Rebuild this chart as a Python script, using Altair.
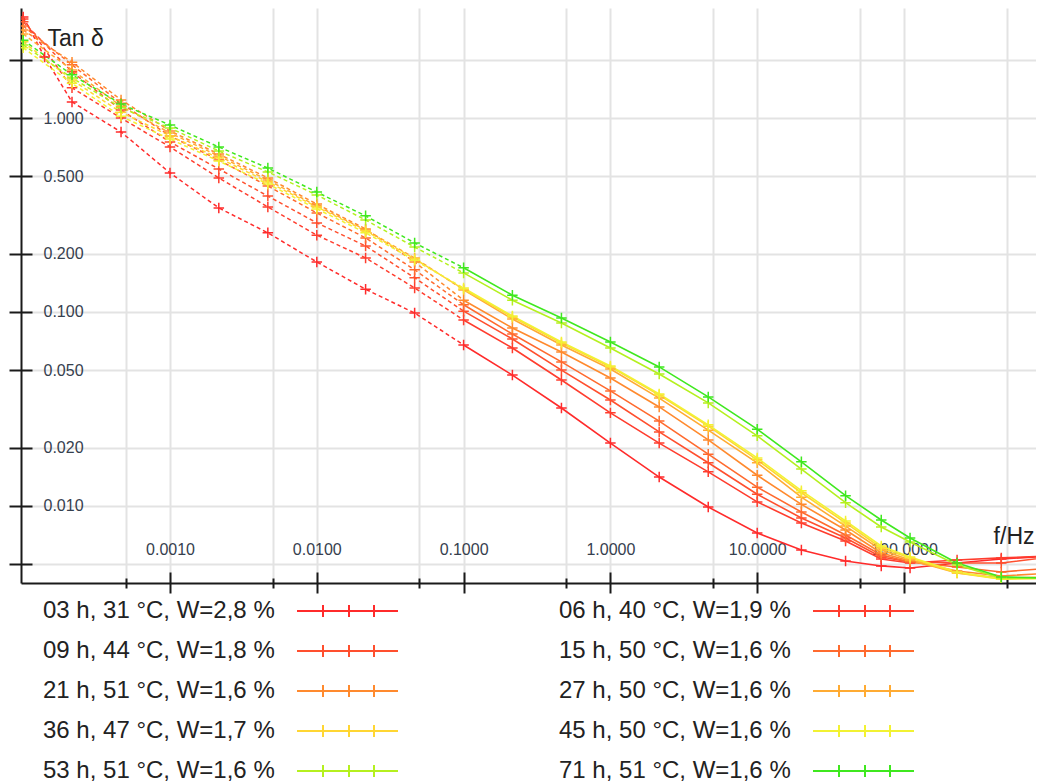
import altair as alt
import pandas as pd

# ---------------- data ----------------
freqs = [0.0001, 0.00014, 0.000215, 0.000464, 0.001, 0.00215, 0.00464, 0.01, 0.0215, 0.0464,
         0.1, 0.215, 0.464, 1.0, 2.15, 4.64, 10.0, 20.0, 40.0, 70.0, 110.0, 230.0, 460.0, 1000.0]

series = ["03 h, 31 °C, W=2,8 %", "06 h, 40 °C, W=1,9 %",
          "09 h, 44 °C, W=1,8 %", "15 h, 50 °C, W=1,6 %",
          "21 h, 51 °C, W=1,6 %", "27 h, 50 °C, W=1,6 %",
          "36 h, 47 °C, W=1,7 %", "45 h, 50 °C, W=1,6 %",
          "53 h, 51 °C, W=1,6 %", "71 h, 51 °C, W=1,6 %"]

colors = ["#ff2b2b", "#ff3d2e", "#ff4f2e", "#ff6a2e", "#ff8a2e",
          "#ffab33", "#ffd633", "#f2f233", "#b5f01f", "#3fe81f"]

tan_03h = [3.32, 2.06, 1.21, 0.847, 0.521, 0.344, 0.256, 0.181, 0.131, 0.0988, 0.0676, 0.0473,
           0.0320, 0.0211, 0.0141, 0.00988, 0.00726, 0.00593, 0.00521, 0.00491, 0.00479,
           0.00508, 0.00533, 0.00553]
tan_06h = [3.24, None, 1.43, 1.00, 0.709, 0.491, 0.348, 0.249, 0.190, 0.133, 0.0910, 0.0652,
           0.0446, 0.0302, 0.0211, 0.0150, 0.0105, 0.00818, 0.00660, 0.00533, 0.00508,
           0.00527, 0.00540, 0.00553]
tan_09h = [3.13, None, 1.73, 1.10, 0.752, 0.546, 0.396, 0.288, 0.219, 0.150, 0.101, 0.0726,
           0.0502, 0.0352, 0.0241, 0.0167, 0.0115, 0.00867, 0.00684, 0.00546, 0.00514,
           0.00508, 0.00508, 0.00546]
tan_15h = [2.98, None, 1.88, 1.19, 0.808, 0.607, 0.446, 0.324, 0.241, 0.165, 0.109, 0.0770,
           0.0553, 0.0392, 0.0274, 0.0185, 0.0125, 0.00931, 0.00709, 0.00559, 0.00514,
           0.00485, 0.00457, 0.00479]
tan_21h = [2.84, None, 1.94, 1.24, 0.857, 0.652, 0.491, 0.360, 0.268, 0.181, 0.115, 0.0827,
           0.0622, 0.0457, 0.0324, 0.0219, 0.0144, 0.0102, 0.00752, 0.00573, 0.00521,
           0.00462, 0.00436, 0.00451]
tan_27h = [2.71, None, 1.77, 1.15, 0.837, 0.637, 0.479, 0.352, 0.265, 0.190, 0.130, 0.0920,
           0.0676, 0.0508, 0.0360, 0.0246, 0.0167, 0.0111, 0.00788, 0.00593, 0.00527,
           0.00451, 0.00425, 0.00431]
tan_36h = [2.47, None, 1.57, 1.07, 0.808, 0.622, 0.468, 0.348, 0.262, 0.188, 0.131, 0.0942,
           0.0692, 0.0521, 0.0373, 0.0258, 0.0173, 0.0117, 0.00818, 0.00608, 0.00540,
           0.00451, 0.00420, 0.00425]
tan_45h = [2.30, None, 1.51, 1.02, 0.779, 0.600, 0.457, 0.340, 0.256, 0.185, 0.133, 0.0954,
           0.0701, 0.0527, 0.0378, 0.0262, 0.0177, 0.0120, 0.00837, 0.00622, 0.00546,
           0.00457, 0.00420, 0.00425]
tan_53h = [2.38, None, 1.61, 1.13, 0.888, 0.676, 0.527, 0.401, 0.298, 0.216, 0.159, 0.115,
           0.0878, 0.0652, 0.0479, 0.0340, 0.0230, 0.0155, 0.0104, 0.00779, 0.00652,
           0.00497, 0.00425, 0.00425]
tan_71h = [2.52, None, 1.67, 1.18, 0.920, 0.709, 0.552, 0.415, 0.313, 0.227, 0.169, 0.122,
           0.0931, 0.0701, 0.0521, 0.0365, 0.0249, 0.0169, 0.0113, 0.00847, 0.00684,
           0.00508, 0.00431, 0.00425]

all_vals = [tan_03h, tan_06h, tan_09h, tan_15h, tan_21h,
            tan_27h, tan_36h, tan_45h, tan_53h, tan_71h]

# tick / grid values
grid_x_vals = [0.0005, 0.001, 0.005, 0.01, 0.05, 0.1, 0.5, 1, 5, 10, 50, 100, 500]
major_x_vals = [0.001, 0.01, 0.1, 1, 10, 100]
minor_x_vals = [0.0005, 0.005, 0.05, 0.5, 5, 50, 500]
y_vals = [0.005, 0.01, 0.02, 0.05, 0.1, 0.2, 0.5, 1, 2]

rows = []
for name, vals in zip(series, all_vals):
    for f, v in zip(freqs, vals):
        if v is not None:
            rows.append({"series": name, "f": f, "tan": v})
df = pd.DataFrame(rows)

# ---------------- styling ----------------
FONT = "Liberation Sans"
AX = "#1a1a1a"
LABEL_C = "#36404e"
GRID_C = "#e3e3e3"
W, H = 1015, 575

xs = alt.Scale(type="log", domain=[9.66e-5, 793.0], nice=False)
ys = alt.Scale(type="log", domain=[0.004009, 3.69], nice=False)
cs = alt.Scale(domain=series, range=colors)

PLUS = "M-1,0H1M0,-1V1"
LEG_SYMBOL = "M266,0H367M292,-6V6M318,-6V6M343,-6V6"

leg = alt.Legend(title=None, orient="none", legendX=-2, legendY=591, columns=2,
                 direction="horizontal",
                 columnPadding=133, rowPadding=16, symbolType=LEG_SYMBOL, symbolSize=4,
                 symbolStrokeWidth=2, symbolOffset=0, labelOffset=0, labelFont=FONT,
                 labelFontSize=24, labelColor="#222222", labelLimit=600, padding=0,
                 gridAlign="each", symbolDash=[1, 0])

grid_x_axis = alt.Axis(values=grid_x_vals, grid=True, gridColor=GRID_C, gridWidth=2,
                       domain=False, ticks=False, labels=False, title=None)
grid_y_axis = alt.Axis(values=y_vals, grid=True, gridColor=GRID_C, gridWidth=2,
                       domain=False, ticks=False, labels=False, title=None)

main_x_axis = alt.Axis(orient="bottom", values=major_x_vals, grid=False, domain=True,
                       domainColor=AX, domainWidth=2, ticks=True, tickColor=AX, tickWidth=2,
                       tickSize=10, format=".4f", labelFont=FONT, labelFontSize=16,
                       labelColor=LABEL_C, labelPadding=-44, labelBaseline="middle",
                       labelAlign="center", labelFlush=False, labelOverlap=False,
                       title="f/Hz", titleFont=FONT, titleFontSize=23, titleFontWeight="normal",
                       titleColor="#222222", titleX=1013, titleY=-47, titleAlign="right",
                       titleBaseline="middle")
main_y_axis = alt.Axis(orient="left", values=y_vals, grid=False, domain=True,
                       domainColor=AX, domainWidth=2, ticks=True, tickColor=AX, tickWidth=2,
                       tickSize=12,
                       labelExpr="datum.value > 1.5 || datum.value < 0.007 ? '' : format(datum.value, '.3f')",
                       labelFont=FONT, labelFontSize=16, labelColor=LABEL_C, labelPadding=-34,
                       labelAlign="left", labelBaseline="middle", labelFlush=False,
                       labelOverlap=False,
                       title="Tan δ", titleFont=FONT, titleFontSize=23, titleFontWeight="normal",
                       titleColor="#222222", titleAngle=0, titleX=26, titleY=30,
                       titleAlign="left", titleBaseline="middle")
inner_x_axis = alt.Axis(orient="bottom", values=major_x_vals, offset=-11, tickSize=11,
                        tickWidth=2, tickColor=AX, domain=False, labels=False, grid=False,
                        title=None)
inner_y_axis = alt.Axis(orient="left", values=y_vals, offset=-11, tickSize=11, tickWidth=2,
                        tickColor=AX, domain=False, labels=False, grid=False, title=None)
minor_x_axis = alt.Axis(orient="bottom", values=minor_x_vals, tickSize=5, tickWidth=2,
                        tickColor=AX, domain=False, labels=False, grid=False, title=None)
minor_in_x_axis = alt.Axis(orient="bottom", values=minor_x_vals, offset=-5, tickSize=5,
                           tickWidth=2, tickColor=AX, domain=False, labels=False, grid=False,
                           title=None)

base = alt.Chart(df)
color = alt.Color("series:N", scale=cs, legend=leg)

grid_layer = base.mark_point(opacity=0, clip=True).encode(
    x=alt.X("f:Q", scale=xs, axis=grid_x_axis),
    y=alt.Y("tan:Q", scale=ys, axis=grid_y_axis))

dashed = base.transform_filter("datum.f <= 0.1").mark_line(
    strokeDash=[4, 3], strokeWidth=1.5, clip=True).encode(
    x=alt.X("f:Q", scale=xs, axis=main_x_axis),
    y=alt.Y("tan:Q", scale=ys, axis=main_y_axis),
    color=color)

solid = base.transform_filter("datum.f >= 0.1").mark_line(
    strokeWidth=1.6, clip=True).encode(
    x=alt.X("f:Q", scale=xs, axis=inner_x_axis),
    y=alt.Y("tan:Q", scale=ys, axis=inner_y_axis),
    color=color)

points = base.mark_point(shape=PLUS, size=110, filled=False, strokeWidth=1.5,
                         opacity=1, clip=True).encode(
    x=alt.X("f:Q", scale=xs, axis=minor_x_axis),
    y=alt.Y("tan:Q", scale=ys, axis=None),
    color=color)

minor_in = base.mark_point(opacity=0, clip=True).encode(
    x=alt.X("f:Q", scale=xs, axis=minor_in_x_axis),
    y=alt.Y("tan:Q", scale=ys, axis=None))

chart = alt.layer(grid_layer, dashed, solid, points, minor_in).resolve_scale(
    x="independent", y="independent"
).properties(
    width=W, height=H,
    padding={"left": 13, "top": 0, "right": 0, "bottom": 205},
    autosize=alt.AutoSizeParams(type="none"),
    background="white",
).configure_view(stroke=None)

chart.save("out.html", embed_options={"renderer": "svg", "actions": False})
